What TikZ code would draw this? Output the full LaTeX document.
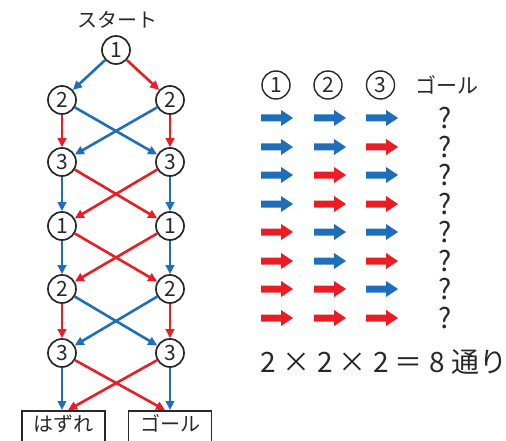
\documentclass[tikz,border=0pt]{standalone}
\usepackage{fontspec}
\setmainfont{Noto Sans CJK JP}
\usetikzlibrary{arrows.meta}
\definecolor{cblue}{RGB}{30,110,185}
\definecolor{cred}{RGB}{232,30,36}
\definecolor{ink}{RGB}{40,40,40}
\begin{document}
\begin{tikzpicture}[x=1pt,y=-1pt,
  num/.style={circle,draw=ink,line width=1.7pt,minimum size=28pt,inner sep=0pt,text=ink,font=\fontsize{21}{21}\selectfont},
  hnum/.style={circle,draw=ink,line width=1.4pt,minimum size=28pt,inner sep=0pt,text=ink,font=\fontsize{21}{21}\selectfont},
  endbox/.style={draw=ink,line width=1.6pt,anchor=north,text=ink,font=\fontsize{20}{20}\selectfont,
     minimum width=83pt,text height=17pt,text depth=16pt,inner ysep=3.6pt},
  lbl/.style={text=ink,font=\fontsize{20}{20}\selectfont,inner sep=0pt},
  ba/.style={line width=2.6pt,draw=cblue,-{Triangle[length=9pt,width=8.5pt]}},
  ra/.style={line width=2.6pt,draw=cred,-{Triangle[length=9pt,width=8.5pt]}},
  bfill/.style={fill=cblue},
  rfill/.style={fill=cred}
]
\useasboundingbox (0,0) rectangle (506,441);
\clip (0,0) rectangle (506,441);

% ---- left tree ----
\node[lbl] (start) at (117,20) {スタート};
\node[num] (a1) at (116,50) {1};
\node[num] (b2L) at (62,100) {2};
\node[num] (b2R) at (170,100) {2};
\node[num] (c3L) at (62,162) {3};
\node[num] (c3R) at (170,162) {3};
\node[num] (d1L) at (62,226) {1};
\node[num] (d1R) at (170,226) {1};
\node[num] (e2L) at (62,289) {2};
\node[num] (e2R) at (170,289) {2};
\node[num] (f3L) at (62,353) {3};
\node[num] (f3R) at (170,353) {3};
\node[endbox] (miss) at (63.5,410) {はずれ};
\node[endbox] (goal) at (170,410) {ゴール};
\coordinate (missB) at (62,410);
\coordinate (missR) at (68,410);
\coordinate (goalR) at (165,410);
\coordinate (goalB) at (170,410);

\draw[ba] (a1) -- (b2L);
\draw[ra] (a1) -- (b2R);

\draw[ra] (b2L) -- (c3L);
\draw[ra] (b2R) -- (c3R);
\draw[ba] (b2L) -- (c3R);
\draw[ba] (b2R) -- (c3L);

\draw[ba] (c3L) -- (d1L);
\draw[ba] (c3R) -- (d1R);
\draw[ra] (c3L) -- (d1R);
\draw[ra] (c3R) -- (d1L);

\draw[ba] (d1L) -- (e2L);
\draw[ba] (d1R) -- (e2R);
\draw[ra] (d1L) -- (e2R);
\draw[ra] (d1R) -- (e2L);

\draw[ra] (e2L) -- (f3L);
\draw[ra] (e2R) -- (f3R);
\draw[ba] (e2L) -- (f3R);
\draw[ba] (e2R) -- (f3L);

\draw[ba] (f3L) -- (missB);
\draw[ba] (f3R) -- (goalB);
\draw[ra] (f3L) -- (goalR);
\draw[ra] (f3R) -- (missR);

% ---- right table ----
\node[hnum] (h1) at (276,85) {1};
\node[hnum] (h2) at (328,85) {2};
\node[hnum] (h3) at (380.5,85) {3};
\node[lbl,font=\fontsize{21}{21}\selectfont] (hg) at (447,85) {ゴール};

\foreach \y/\a/\b/\c [count=\i] in {118/b/b/b,147/b/b/r,175/b/r/b,204/b/r/r,232/r/b/b,261/r/b/r,289/r/r/b,318/r/r/r}{
  \foreach \cx/\col in {277/\a,330/\b,382/\c}{
    \fill[\col fill] (\cx-16,\y-3.5) -- (\cx+4,\y-3.5) -- (\cx+4,\y-8) -- (\cx+16,\y) -- (\cx+4,\y+8) -- (\cx+4,\y+3.5) -- (\cx-16,\y+3.5) -- cycle;
  }
  \node[lbl,font=\fontsize{28}{28}\selectfont] (q\i) at (445.5,\y) {?};
}

\node[text=ink,font=\fontsize{28}{28}\selectfont,inner sep=0pt] (formula) at (384,362) {2 × 2 × 2 ＝ 8 通り};
\end{tikzpicture}
\end{document}
